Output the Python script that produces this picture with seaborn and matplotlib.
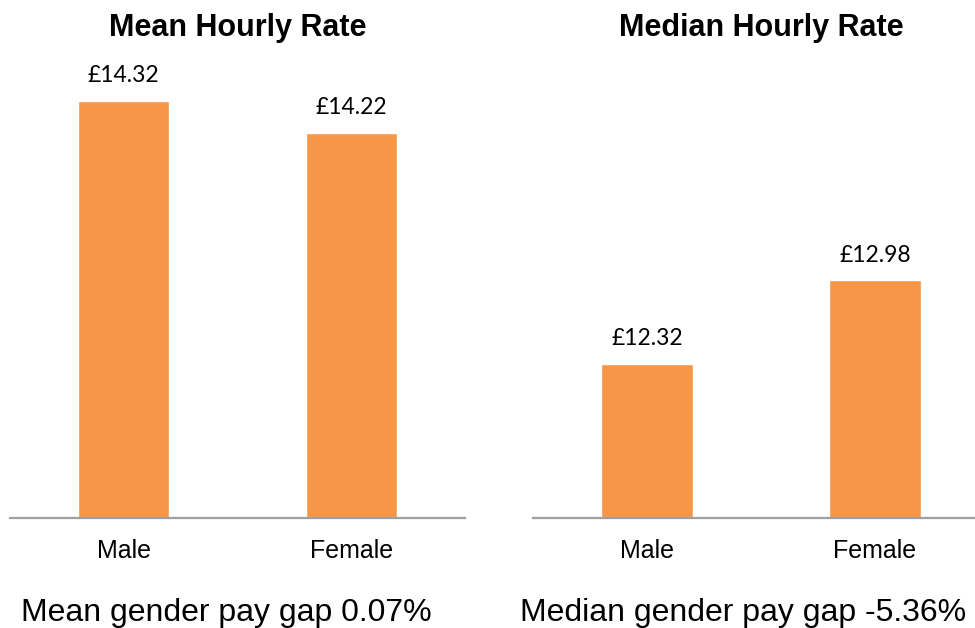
import matplotlib
matplotlib.use("Agg")
import matplotlib.pyplot as plt
import seaborn as sns
import pandas as pd

# data
genders = ["Male", "Female"]
mean_rates = [14.32, 14.22]
median_rates = [12.32, 12.98]
panel_titles = ["Mean Hourly Rate", "Median Hourly Rate"]
gap_texts = ["Mean gender pay gap 0.07%", "Median gender pay gap -5.36%"]

BAR = "#F79646"
AXIS = "#A0A0A0"

sns.set_theme(style="white")
plt.rcParams["font.family"] = ["Liberation Sans", "DejaVu Sans"]
plt.rcParams["text.color"] = "black"
plt.rcParams["xtick.color"] = "black"

fig = plt.figure(figsize=(9.75, 6.28), dpi=100)
W, H = 975, 628

# axes placement in pixels (left, right, top, bottom)
boxes = [(10, 465, 60, 517.7), (533, 989, 60, 517.7)]
ylims = [(13.0, 14.45), (11.1, 14.727)]
gap_x = [226, 743]

for i, (vals, title, gap) in enumerate(zip([mean_rates, median_rates], panel_titles, gap_texts)):
    l, r, t, b = boxes[i]
    ax = fig.add_axes([l / W, 1 - b / H, (r - l) / W, (b - t) / H])
    df = pd.DataFrame({"gender": genders, "rate": vals})
    sns.barplot(data=df, x="gender", y="rate", color=BAR, saturation=1,
                width=0.4, ax=ax)
    ax.set_ylim(*ylims[i])
    ax.set_xlim(-0.5, 1.5)
    ax.set_xlabel("")
    ax.set_ylabel("")
    ax.set_yticks([])
    for s in ["top", "left", "right"]:
        ax.spines[s].set_visible(False)
    ax.spines["bottom"].set_color(AXIS)
    ax.spines["bottom"].set_linewidth(1.6)
    ax.tick_params(axis="x", length=0, pad=15, labelsize=18, colors="black")

    for j, v in enumerate(vals):
        ax.annotate(f"£{v:.2f}", xy=(j, v), xytext=(0, 13.5),
                    textcoords="offset points", ha="center", va="baseline",
                    fontsize=16.5, color="black", family=["Lato", "DejaVu Sans"])

    cx = ((l + r) / 2) / W
    fig.text(cx, 1 - 35.7 / H, title, ha="center", va="baseline",
             fontsize=22, fontweight="bold", color="black")
    fig.text(gap_x[i] / W, 1 - 621 / H, gap, ha="center", va="baseline",
             fontsize=23, color="black")

fig.savefig("out.png", dpi=100)
